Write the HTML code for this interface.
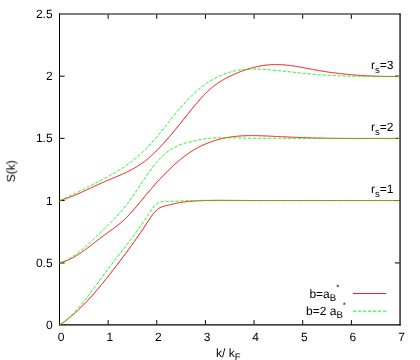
<!DOCTYPE html>
<html><head><meta charset="utf-8"><title>S(k)</title>
<style>
html,body{margin:0;padding:0;background:#fff;}
body{width:420px;height:360px;overflow:hidden;}
svg{display:block;}
.txt{filter:grayscale(1);}
text{font-family:"Liberation Sans",sans-serif;font-size:12px;fill:#000;text-rendering:geometricPrecision;}
.sub{font-size:9.6px;}
.star{font-size:8px;}
</style></head><body>
<svg width="420" height="360" viewBox="0 0 420 360">
<rect width="420" height="360" fill="#fff"/>
<path d="M59.5,13.45 V325.45" fill="none" stroke="#000" stroke-width="1"/>
<path d="M400.05,13.45 V325.45" fill="none" stroke="#000" stroke-width="1.25"/>
<path d="M59.0,14.0 H400.65 M59.0,324.9 H400.65" fill="none" stroke="#000" stroke-width="1.12"/>
<path d="M108.14,324.4 v-4.3 M108.14,14.5 v4.3 M156.79,324.4 v-4.3 M156.79,14.5 v4.3 M205.43,324.4 v-4.3 M205.43,14.5 v4.3 M254.07,324.4 v-4.3 M254.07,14.5 v4.3 M302.71,324.4 v-4.3 M302.71,14.5 v4.3 M351.36,324.4 v-4.3 M351.36,14.5 v4.3 M60.0,262.95 h4.6 M399.5,262.95 h-4.6 M60.0,200.54 h4.6 M399.5,200.54 h-4.6 M60.0,138.36 h4.6 M399.5,138.36 h-4.6 M60.0,76.18 h4.6 M399.5,76.18 h-4.6" fill="none" stroke="#000" stroke-width="1"/>
<path d="M59.50,200.62 L60.50,200.33 L61.50,200.04 L62.50,199.73 L63.50,199.41 L64.50,199.08 L65.50,198.74 L66.50,198.39 L67.50,198.03 L68.50,197.66 L69.50,197.29 L70.50,196.90 L71.50,196.51 L72.50,196.11 L73.50,195.70 L74.50,195.29 L75.50,194.87 L76.50,194.45 L77.50,194.02 L78.50,193.58 L79.50,193.14 L80.50,192.69 L81.50,192.24 L82.50,191.79 L83.50,191.34 L84.50,190.88 L85.50,190.42 L86.50,189.95 L87.50,189.49 L88.50,189.02 L89.50,188.55 L90.50,188.09 L91.50,187.62 L92.50,187.15 L93.50,186.68 L94.50,186.22 L95.50,185.75 L96.50,185.29 L97.50,184.83 L98.50,184.37 L99.50,183.91 L100.50,183.46 L101.50,183.01 L102.50,182.57 L103.50,182.13 L104.50,181.69 L105.50,181.26 L106.50,180.83 L107.50,180.41 L108.50,179.99 L109.50,179.58 L110.50,179.16 L111.50,178.75 L112.50,178.33 L113.50,177.92 L114.50,177.51 L115.50,177.09 L116.50,176.67 L117.50,176.25 L118.50,175.83 L119.50,175.40 L120.50,174.97 L121.50,174.53 L122.50,174.08 L123.50,173.63 L124.50,173.17 L125.50,172.71 L126.50,172.23 L127.50,171.74 L128.50,171.25 L129.50,170.74 L130.50,170.23 L131.50,169.70 L132.50,169.15 L133.50,168.60 L134.50,168.03 L135.50,167.44 L136.50,166.84 L137.50,166.22 L138.50,165.59 L139.50,164.94 L140.50,164.27 L141.50,163.58 L142.50,162.88 L143.50,162.15 L144.50,161.40 L145.50,160.63 L146.50,159.84 L147.50,159.03 L148.50,158.19 L149.50,157.33 L150.50,156.46 L151.50,155.56 L152.50,154.64 L153.50,153.70 L154.50,152.74 L155.50,151.77 L156.50,150.78 L157.50,149.77 L158.50,148.74 L159.50,147.70 L160.50,146.64 L161.50,145.57 L162.50,144.49 L163.50,143.39 L164.50,142.27 L165.50,141.15 L166.50,140.02 L167.50,138.87 L168.50,137.71 L169.50,136.54 L170.50,135.37 L171.50,134.18 L172.50,132.99 L173.50,131.79 L174.50,130.58 L175.50,129.37 L176.50,128.15 L177.50,126.92 L178.50,125.69 L179.50,124.46 L180.50,123.22 L181.50,121.98 L182.50,120.73 L183.50,119.49 L184.50,118.24 L185.50,117.00 L186.50,115.75 L187.50,114.50 L188.50,113.26 L189.50,112.01 L190.50,110.77 L191.50,109.54 L192.50,108.31 L193.50,107.08 L194.50,105.87 L195.50,104.67 L196.50,103.47 L197.50,102.30 L198.50,101.13 L199.50,99.98 L200.50,98.85 L201.50,97.73 L202.50,96.64 L203.50,95.57 L204.50,94.52 L205.50,93.49 L206.50,92.49 L207.50,91.52 L208.50,90.57 L209.50,89.66 L210.50,88.77 L211.50,87.92 L212.50,87.09 L213.50,86.29 L214.50,85.52 L215.50,84.77 L216.50,84.05 L217.50,83.36 L218.50,82.68 L219.50,82.03 L220.50,81.40 L221.50,80.78 L222.50,80.19 L223.50,79.61 L224.50,79.05 L225.50,78.51 L226.50,77.98 L227.50,77.46 L228.50,76.95 L229.50,76.46 L230.50,75.98 L231.50,75.50 L232.50,75.04 L233.50,74.58 L234.50,74.13 L235.50,73.69 L236.50,73.27 L237.50,72.85 L238.50,72.44 L239.50,72.04 L240.50,71.65 L241.50,71.27 L242.50,70.90 L243.50,70.54 L244.50,70.19 L245.50,69.84 L246.50,69.51 L247.50,69.19 L248.50,68.88 L249.50,68.58 L250.50,68.29 L251.50,68.01 L252.50,67.74 L253.50,67.48 L254.50,67.23 L255.50,67.00 L256.50,66.77 L257.50,66.55 L258.50,66.35 L259.50,66.15 L260.50,65.97 L261.50,65.79 L262.50,65.63 L263.50,65.48 L264.50,65.34 L265.50,65.21 L266.50,65.09 L267.50,64.99 L268.50,64.89 L269.50,64.81 L270.50,64.73 L271.50,64.67 L272.50,64.62 L273.50,64.59 L274.50,64.56 L275.50,64.55 L276.50,64.55 L277.50,64.56 L278.50,64.58 L279.50,64.61 L280.50,64.65 L281.50,64.70 L282.50,64.76 L283.50,64.83 L284.50,64.91 L285.50,65.00 L286.50,65.10 L287.50,65.21 L288.50,65.32 L289.50,65.44 L290.50,65.57 L291.50,65.70 L292.50,65.84 L293.50,65.98 L294.50,66.14 L295.50,66.29 L296.50,66.45 L297.50,66.62 L298.50,66.79 L299.50,66.96 L300.50,67.14 L301.50,67.32 L302.50,67.50 L303.50,67.68 L304.50,67.87 L305.50,68.06 L306.50,68.25 L307.50,68.44 L308.50,68.63 L309.50,68.82 L310.50,69.01 L311.50,69.20 L312.50,69.39 L313.50,69.58 L314.50,69.76 L315.50,69.95 L316.50,70.13 L317.50,70.31 L318.50,70.49 L319.50,70.66 L320.50,70.83 L321.50,71.00 L322.50,71.17 L323.50,71.33 L324.50,71.49 L325.50,71.64 L326.50,71.80 L327.50,71.95 L328.50,72.09 L329.50,72.24 L330.50,72.38 L331.50,72.52 L332.50,72.66 L333.50,72.79 L334.50,72.92 L335.50,73.05 L336.50,73.18 L337.50,73.30 L338.50,73.42 L339.50,73.54 L340.50,73.65 L341.50,73.76 L342.50,73.87 L343.50,73.98 L344.50,74.09 L345.50,74.19 L346.50,74.29 L347.50,74.39 L348.50,74.48 L349.50,74.57 L350.50,74.66 L351.50,74.75 L352.50,74.84 L353.50,74.92 L354.50,75.00 L355.50,75.08 L356.50,75.15 L357.50,75.23 L358.50,75.30 L359.50,75.37 L360.50,75.43 L361.50,75.50 L362.50,75.56 L363.50,75.62 L364.50,75.67 L365.50,75.73 L366.50,75.78 L367.50,75.83 L368.50,75.88 L369.50,75.93 L370.50,75.98 L371.50,76.02 L372.50,76.06 L373.50,76.10 L374.50,76.13 L375.50,76.17 L376.50,76.20 L377.50,76.23 L378.50,76.26 L379.50,76.29 L380.50,76.31 L381.50,76.33 L382.50,76.36 L383.50,76.37 L384.50,76.39 L385.50,76.41 L386.50,76.42 L387.50,76.43 L388.50,76.44 L389.50,76.45 L390.50,76.46 L391.50,76.46 L392.50,76.47 L393.50,76.47 L394.50,76.47 L395.50,76.47 L396.50,76.46 L397.50,76.46 L398.50,76.45 L399.50,76.44 L400.00,76.44" fill="none" stroke="#ff0000" stroke-width="1"/>
<path d="M59.50,200.65 L60.50,200.19 L61.50,199.74 L62.50,199.28 L63.50,198.83 L64.50,198.37 L65.50,197.91 L66.50,197.44 L67.50,196.98 L68.50,196.51 L69.50,196.05 L70.50,195.58 L71.50,195.11 L72.50,194.64 L73.50,194.16 L74.50,193.69 L75.50,193.21 L76.50,192.73 L77.50,192.25 L78.50,191.76 L79.50,191.28 L80.50,190.79 L81.50,190.30 L82.50,189.81 L83.50,189.32 L84.50,188.83 L85.50,188.33 L86.50,187.83 L87.50,187.33 L88.50,186.83 L89.50,186.32 L90.50,185.82 L91.50,185.31 L92.50,184.80 L93.50,184.28 L94.50,183.77 L95.50,183.25 L96.50,182.73 L97.50,182.21 L98.50,181.69 L99.50,181.16 L100.50,180.63 L101.50,180.10 L102.50,179.57 L103.50,179.03 L104.50,178.49 L105.50,177.95 L106.50,177.41 L107.50,176.86 L108.50,176.31 L109.50,175.76 L110.50,175.20 L111.50,174.64 L112.50,174.07 L113.50,173.49 L114.50,172.91 L115.50,172.32 L116.50,171.73 L117.50,171.12 L118.50,170.51 L119.50,169.89 L120.50,169.26 L121.50,168.62 L122.50,167.98 L123.50,167.32 L124.50,166.65 L125.50,165.97 L126.50,165.28 L127.50,164.57 L128.50,163.85 L129.50,163.13 L130.50,162.38 L131.50,161.63 L132.50,160.85 L133.50,160.07 L134.50,159.27 L135.50,158.45 L136.50,157.62 L137.50,156.77 L138.50,155.90 L139.50,155.02 L140.50,154.12 L141.50,153.20 L142.50,152.26 L143.50,151.30 L144.50,150.33 L145.50,149.33 L146.50,148.31 L147.50,147.28 L148.50,146.22 L149.50,145.14 L150.50,144.05 L151.50,142.94 L152.50,141.81 L153.50,140.67 L154.50,139.51 L155.50,138.34 L156.50,137.16 L157.50,135.97 L158.50,134.76 L159.50,133.55 L160.50,132.33 L161.50,131.10 L162.50,129.87 L163.50,128.63 L164.50,127.39 L165.50,126.14 L166.50,124.90 L167.50,123.65 L168.50,122.40 L169.50,121.15 L170.50,119.90 L171.50,118.66 L172.50,117.42 L173.50,116.18 L174.50,114.95 L175.50,113.73 L176.50,112.52 L177.50,111.31 L178.50,110.11 L179.50,108.93 L180.50,107.75 L181.50,106.59 L182.50,105.44 L183.50,104.30 L184.50,103.19 L185.50,102.08 L186.50,101.00 L187.50,99.93 L188.50,98.89 L189.50,97.86 L190.50,96.85 L191.50,95.87 L192.50,94.90 L193.50,93.95 L194.50,93.03 L195.50,92.12 L196.50,91.23 L197.50,90.37 L198.50,89.52 L199.50,88.69 L200.50,87.88 L201.50,87.09 L202.50,86.32 L203.50,85.57 L204.50,84.83 L205.50,84.12 L206.50,83.42 L207.50,82.74 L208.50,82.08 L209.50,81.44 L210.50,80.82 L211.50,80.21 L212.50,79.62 L213.50,79.05 L214.50,78.50 L215.50,77.97 L216.50,77.45 L217.50,76.95 L218.50,76.46 L219.50,76.00 L220.50,75.55 L221.50,75.12 L222.50,74.70 L223.50,74.30 L224.50,73.92 L225.50,73.55 L226.50,73.20 L227.50,72.87 L228.50,72.55 L229.50,72.25 L230.50,71.96 L231.50,71.69 L232.50,71.43 L233.50,71.19 L234.50,70.97 L235.50,70.75 L236.50,70.56 L237.50,70.37 L238.50,70.20 L239.50,70.05 L240.50,69.90 L241.50,69.77 L242.50,69.65 L243.50,69.54 L244.50,69.44 L245.50,69.36 L246.50,69.28 L247.50,69.22 L248.50,69.17 L249.50,69.12 L250.50,69.09 L251.50,69.06 L252.50,69.04 L253.50,69.04 L254.50,69.04 L255.50,69.05 L256.50,69.06 L257.50,69.08 L258.50,69.11 L259.50,69.15 L260.50,69.19 L261.50,69.24 L262.50,69.30 L263.50,69.36 L264.50,69.42 L265.50,69.49 L266.50,69.56 L267.50,69.64 L268.50,69.72 L269.50,69.81 L270.50,69.90 L271.50,69.99 L272.50,70.08 L273.50,70.18 L274.50,70.27 L275.50,70.37 L276.50,70.47 L277.50,70.57 L278.50,70.67 L279.50,70.78 L280.50,70.88 L281.50,70.98 L282.50,71.09 L283.50,71.19 L284.50,71.30 L285.50,71.41 L286.50,71.51 L287.50,71.62 L288.50,71.73 L289.50,71.83 L290.50,71.94 L291.50,72.05 L292.50,72.16 L293.50,72.26 L294.50,72.37 L295.50,72.48 L296.50,72.58 L297.50,72.69 L298.50,72.79 L299.50,72.90 L300.50,73.00 L301.50,73.10 L302.50,73.20 L303.50,73.30 L304.50,73.40 L305.50,73.50 L306.50,73.60 L307.50,73.70 L308.50,73.79 L309.50,73.88 L310.50,73.98 L311.50,74.07 L312.50,74.15 L313.50,74.24 L314.50,74.33 L315.50,74.41 L316.50,74.49 L317.50,74.57 L318.50,74.65 L319.50,74.72 L320.50,74.79 L321.50,74.86 L322.50,74.93 L323.50,75.00 L324.50,75.06 L325.50,75.13 L326.50,75.19 L327.50,75.25 L328.50,75.30 L329.50,75.36 L330.50,75.41 L331.50,75.46 L332.50,75.51 L333.50,75.56 L334.50,75.61 L335.50,75.65 L336.50,75.70 L337.50,75.74 L338.50,75.78 L339.50,75.82 L340.50,75.85 L341.50,75.89 L342.50,75.92 L343.50,75.96 L344.50,75.99 L345.50,76.02 L346.50,76.05 L347.50,76.07 L348.50,76.10 L349.50,76.13 L350.50,76.15 L351.50,76.17 L352.50,76.19 L353.50,76.21 L354.50,76.23 L355.50,76.25 L356.50,76.27 L357.50,76.29 L358.50,76.30 L359.50,76.31 L360.50,76.33 L361.50,76.34 L362.50,76.35 L363.50,76.36 L364.50,76.37 L365.50,76.38 L366.50,76.39 L367.50,76.40 L368.50,76.41 L369.50,76.41 L370.50,76.42 L371.50,76.42 L372.50,76.43 L373.50,76.43 L374.50,76.44 L375.50,76.44 L376.50,76.44 L377.50,76.45 L378.50,76.45 L379.50,76.45 L380.50,76.45 L381.50,76.45 L382.50,76.45 L383.50,76.45 L384.50,76.45 L385.50,76.45 L386.50,76.45 L387.50,76.45 L388.50,76.45 L389.50,76.45 L390.50,76.45 L391.50,76.45 L392.50,76.45 L393.50,76.45 L394.50,76.45 L395.50,76.45 L396.50,76.45 L397.50,76.45 L398.50,76.45 L399.50,76.45 L400.00,76.45" fill="none" stroke="#00ff00" stroke-width="1" stroke-dasharray="3.3 1.7"/>
<path d="M59.50,262.90 L60.50,262.68 L61.50,262.42 L62.50,262.13 L63.50,261.82 L64.50,261.48 L65.50,261.11 L66.50,260.71 L67.50,260.29 L68.50,259.85 L69.50,259.38 L70.50,258.89 L71.50,258.37 L72.50,257.84 L73.50,257.29 L74.50,256.72 L75.50,256.12 L76.50,255.52 L77.50,254.89 L78.50,254.25 L79.50,253.60 L80.50,252.93 L81.50,252.25 L82.50,251.55 L83.50,250.85 L84.50,250.13 L85.50,249.41 L86.50,248.67 L87.50,247.93 L88.50,247.18 L89.50,246.43 L90.50,245.67 L91.50,244.91 L92.50,244.14 L93.50,243.37 L94.50,242.60 L95.50,241.83 L96.50,241.05 L97.50,240.28 L98.50,239.51 L99.50,238.74 L100.50,237.98 L101.50,237.22 L102.50,236.47 L103.50,235.72 L104.50,234.98 L105.50,234.24 L106.50,233.52 L107.50,232.79 L108.50,232.07 L109.50,231.35 L110.50,230.63 L111.50,229.91 L112.50,229.18 L113.50,228.44 L114.50,227.70 L115.50,226.95 L116.50,226.18 L117.50,225.40 L118.50,224.61 L119.50,223.80 L120.50,222.97 L121.50,222.12 L122.50,221.24 L123.50,220.34 L124.50,219.42 L125.50,218.47 L126.50,217.49 L127.50,216.48 L128.50,215.44 L129.50,214.38 L130.50,213.30 L131.50,212.20 L132.50,211.08 L133.50,209.94 L134.50,208.79 L135.50,207.62 L136.50,206.44 L137.50,205.25 L138.50,204.05 L139.50,202.84 L140.50,201.63 L141.50,200.42 L142.50,199.21 L143.50,197.99 L144.50,196.78 L145.50,195.57 L146.50,194.37 L147.50,193.17 L148.50,191.99 L149.50,190.81 L150.50,189.64 L151.50,188.47 L152.50,187.32 L153.50,186.17 L154.50,185.04 L155.50,183.91 L156.50,182.79 L157.50,181.68 L158.50,180.59 L159.50,179.50 L160.50,178.42 L161.50,177.35 L162.50,176.30 L163.50,175.25 L164.50,174.22 L165.50,173.20 L166.50,172.19 L167.50,171.19 L168.50,170.20 L169.50,169.23 L170.50,168.27 L171.50,167.32 L172.50,166.38 L173.50,165.46 L174.50,164.55 L175.50,163.65 L176.50,162.77 L177.50,161.91 L178.50,161.05 L179.50,160.22 L180.50,159.39 L181.50,158.58 L182.50,157.79 L183.50,157.01 L184.50,156.25 L185.50,155.51 L186.50,154.78 L187.50,154.06 L188.50,153.37 L189.50,152.69 L190.50,152.02 L191.50,151.38 L192.50,150.74 L193.50,150.13 L194.50,149.53 L195.50,148.95 L196.50,148.38 L197.50,147.83 L198.50,147.29 L199.50,146.77 L200.50,146.26 L201.50,145.77 L202.50,145.29 L203.50,144.83 L204.50,144.38 L205.50,143.94 L206.50,143.52 L207.50,143.11 L208.50,142.71 L209.50,142.33 L210.50,141.96 L211.50,141.60 L212.50,141.26 L213.50,140.93 L214.50,140.61 L215.50,140.30 L216.50,140.00 L217.50,139.72 L218.50,139.45 L219.50,139.19 L220.50,138.93 L221.50,138.69 L222.50,138.47 L223.50,138.25 L224.50,138.04 L225.50,137.84 L226.50,137.65 L227.50,137.47 L228.50,137.31 L229.50,137.15 L230.50,137.00 L231.50,136.85 L232.50,136.72 L233.50,136.60 L234.50,136.48 L235.50,136.38 L236.50,136.28 L237.50,136.19 L238.50,136.10 L239.50,136.03 L240.50,135.96 L241.50,135.89 L242.50,135.84 L243.50,135.79 L244.50,135.75 L245.50,135.71 L246.50,135.68 L247.50,135.65 L248.50,135.64 L249.50,135.62 L250.50,135.61 L251.50,135.61 L252.50,135.61 L253.50,135.61 L254.50,135.62 L255.50,135.63 L256.50,135.65 L257.50,135.67 L258.50,135.70 L259.50,135.72 L260.50,135.75 L261.50,135.79 L262.50,135.82 L263.50,135.86 L264.50,135.90 L265.50,135.94 L266.50,135.98 L267.50,136.03 L268.50,136.07 L269.50,136.12 L270.50,136.17 L271.50,136.22 L272.50,136.27 L273.50,136.32 L274.50,136.37 L275.50,136.42 L276.50,136.47 L277.50,136.51 L278.50,136.56 L279.50,136.61 L280.50,136.66 L281.50,136.70 L282.50,136.75 L283.50,136.80 L284.50,136.84 L285.50,136.89 L286.50,136.93 L287.50,136.98 L288.50,137.02 L289.50,137.06 L290.50,137.11 L291.50,137.15 L292.50,137.19 L293.50,137.23 L294.50,137.27 L295.50,137.31 L296.50,137.35 L297.50,137.39 L298.50,137.43 L299.50,137.47 L300.50,137.50 L301.50,137.54 L302.50,137.58 L303.50,137.61 L304.50,137.64 L305.50,137.68 L306.50,137.71 L307.50,137.74 L308.50,137.77 L309.50,137.80 L310.50,137.83 L311.50,137.86 L312.50,137.89 L313.50,137.92 L314.50,137.95 L315.50,137.97 L316.50,138.00 L317.50,138.02 L318.50,138.05 L319.50,138.07 L320.50,138.09 L321.50,138.11 L322.50,138.13 L323.50,138.15 L324.50,138.17 L325.50,138.19 L326.50,138.20 L327.50,138.22 L328.50,138.24 L329.50,138.25 L330.50,138.27 L331.50,138.28 L332.50,138.29 L333.50,138.31 L334.50,138.32 L335.50,138.33 L336.50,138.34 L337.50,138.35 L338.50,138.36 L339.50,138.37 L340.50,138.38 L341.50,138.39 L342.50,138.39 L343.50,138.40 L344.50,138.41 L345.50,138.41 L346.50,138.42 L347.50,138.42 L348.50,138.43 L349.50,138.43 L350.50,138.44 L351.50,138.44 L352.50,138.44 L353.50,138.45 L354.50,138.45 L355.50,138.45 L356.50,138.45 L357.50,138.46 L358.50,138.46 L359.50,138.46 L360.50,138.46 L361.50,138.46 L362.50,138.46 L363.50,138.46 L364.50,138.46 L365.50,138.46 L366.50,138.46 L367.50,138.46 L368.50,138.46 L369.50,138.46 L370.50,138.46 L371.50,138.46 L372.50,138.46 L373.50,138.46 L374.50,138.45 L375.50,138.45 L376.50,138.45 L377.50,138.45 L378.50,138.45 L379.50,138.45 L380.50,138.45 L381.50,138.45 L382.50,138.45 L383.50,138.45 L384.50,138.44 L385.50,138.44 L386.50,138.44 L387.50,138.44 L388.50,138.44 L389.50,138.44 L390.50,138.44 L391.50,138.44 L392.50,138.44 L393.50,138.45 L394.50,138.45 L395.50,138.45 L396.50,138.45 L397.50,138.45 L398.50,138.45 L399.50,138.46 L400.00,138.46" fill="none" stroke="#ff0000" stroke-width="1"/>
<path d="M59.50,262.93 L60.50,262.60 L61.50,262.24 L62.50,261.85 L63.50,261.44 L64.50,260.99 L65.50,260.53 L66.50,260.03 L67.50,259.51 L68.50,258.97 L69.50,258.40 L70.50,257.81 L71.50,257.19 L72.50,256.56 L73.50,255.90 L74.50,255.22 L75.50,254.52 L76.50,253.81 L77.50,253.07 L78.50,252.32 L79.50,251.55 L80.50,250.76 L81.50,249.96 L82.50,249.15 L83.50,248.31 L84.50,247.47 L85.50,246.61 L86.50,245.74 L87.50,244.86 L88.50,243.97 L89.50,243.06 L90.50,242.15 L91.50,241.23 L92.50,240.30 L93.50,239.36 L94.50,238.42 L95.50,237.47 L96.50,236.51 L97.50,235.55 L98.50,234.58 L99.50,233.62 L100.50,232.64 L101.50,231.67 L102.50,230.70 L103.50,229.72 L104.50,228.75 L105.50,227.77 L106.50,226.79 L107.50,225.82 L108.50,224.83 L109.50,223.85 L110.50,222.85 L111.50,221.85 L112.50,220.84 L113.50,219.81 L114.50,218.78 L115.50,217.73 L116.50,216.66 L117.50,215.58 L118.50,214.48 L119.50,213.36 L120.50,212.22 L121.50,211.06 L122.50,209.87 L123.50,208.65 L124.50,207.41 L125.50,206.14 L126.50,204.84 L127.50,203.52 L128.50,202.16 L129.50,200.78 L130.50,199.39 L131.50,197.97 L132.50,196.53 L133.50,195.08 L134.50,193.61 L135.50,192.13 L136.50,190.64 L137.50,189.15 L138.50,187.64 L139.50,186.14 L140.50,184.63 L141.50,183.13 L142.50,181.63 L143.50,180.14 L144.50,178.67 L145.50,177.20 L146.50,175.75 L147.50,174.32 L148.50,172.92 L149.50,171.53 L150.50,170.17 L151.50,168.83 L152.50,167.51 L153.50,166.22 L154.50,164.96 L155.50,163.73 L156.50,162.53 L157.50,161.36 L158.50,160.22 L159.50,159.12 L160.50,158.05 L161.50,157.01 L162.50,156.02 L163.50,155.06 L164.50,154.14 L165.50,153.26 L166.50,152.42 L167.50,151.63 L168.50,150.88 L169.50,150.17 L170.50,149.51 L171.50,148.88 L172.50,148.29 L173.50,147.73 L174.50,147.21 L175.50,146.71 L176.50,146.25 L177.50,145.81 L178.50,145.40 L179.50,145.01 L180.50,144.65 L181.50,144.30 L182.50,143.97 L183.50,143.66 L184.50,143.36 L185.50,143.08 L186.50,142.80 L187.50,142.53 L188.50,142.27 L189.50,142.02 L190.50,141.77 L191.50,141.52 L192.50,141.28 L193.50,141.04 L194.50,140.82 L195.50,140.59 L196.50,140.38 L197.50,140.17 L198.50,139.97 L199.50,139.78 L200.50,139.59 L201.50,139.41 L202.50,139.24 L203.50,139.08 L204.50,138.93 L205.50,138.79 L206.50,138.66 L207.50,138.54 L208.50,138.43 L209.50,138.32 L210.50,138.23 L211.50,138.15 L212.50,138.08 L213.50,138.02 L214.50,137.97 L215.50,137.92 L216.50,137.89 L217.50,137.86 L218.50,137.83 L219.50,137.82 L220.50,137.80 L221.50,137.80 L222.50,137.80 L223.50,137.80 L224.50,137.80 L225.50,137.81 L226.50,137.82 L227.50,137.83 L228.50,137.85 L229.50,137.86 L230.50,137.88 L231.50,137.89 L232.50,137.91 L233.50,137.92 L234.50,137.94 L235.50,137.95 L236.50,137.96 L237.50,137.98 L238.50,137.99 L239.50,138.00 L240.50,138.01 L241.50,138.03 L242.50,138.04 L243.50,138.05 L244.50,138.06 L245.50,138.07 L246.50,138.09 L247.50,138.10 L248.50,138.11 L249.50,138.12 L250.50,138.13 L251.50,138.14 L252.50,138.15 L253.50,138.16 L254.50,138.17 L255.50,138.18 L256.50,138.19 L257.50,138.20 L258.50,138.21 L259.50,138.21 L260.50,138.22 L261.50,138.23 L262.50,138.24 L263.50,138.25 L264.50,138.26 L265.50,138.26 L266.50,138.27 L267.50,138.28 L268.50,138.28 L269.50,138.29 L270.50,138.30 L271.50,138.30 L272.50,138.31 L273.50,138.32 L274.50,138.32 L275.50,138.33 L276.50,138.33 L277.50,138.34 L278.50,138.35 L279.50,138.35 L280.50,138.36 L281.50,138.36 L282.50,138.37 L283.50,138.37 L284.50,138.38 L285.50,138.38 L286.50,138.38 L287.50,138.39 L288.50,138.39 L289.50,138.40 L290.50,138.40 L291.50,138.40 L292.50,138.41 L293.50,138.41 L294.50,138.41 L295.50,138.42 L296.50,138.42 L297.50,138.42 L298.50,138.43 L299.50,138.43 L300.50,138.43 L301.50,138.43 L302.50,138.43 L303.50,138.44 L304.50,138.44 L305.50,138.44 L306.50,138.44 L307.50,138.45 L308.50,138.45 L309.50,138.45 L310.50,138.45 L311.50,138.45 L312.50,138.45 L313.50,138.45 L314.50,138.46 L315.50,138.46 L316.50,138.46 L317.50,138.46 L318.50,138.46 L319.50,138.46 L320.50,138.46 L321.50,138.46 L322.50,138.46 L323.50,138.46 L324.50,138.46 L325.50,138.46 L326.50,138.46 L327.50,138.46 L328.50,138.46 L329.50,138.46 L330.50,138.46 L331.50,138.46 L332.50,138.46 L333.50,138.46 L334.50,138.46 L335.50,138.46 L336.50,138.46 L337.50,138.46 L338.50,138.46 L339.50,138.46 L340.50,138.46 L341.50,138.46 L342.50,138.46 L343.50,138.46 L344.50,138.46 L345.50,138.46 L346.50,138.46 L347.50,138.46 L348.50,138.46 L349.50,138.46 L350.50,138.46 L351.50,138.46 L352.50,138.46 L353.50,138.46 L354.50,138.46 L355.50,138.46 L356.50,138.45 L357.50,138.45 L358.50,138.45 L359.50,138.45 L360.50,138.45 L361.50,138.45 L362.50,138.45 L363.50,138.45 L364.50,138.45 L365.50,138.45 L366.50,138.45 L367.50,138.45 L368.50,138.45 L369.50,138.45 L370.50,138.45 L371.50,138.45 L372.50,138.45 L373.50,138.45 L374.50,138.45 L375.50,138.45 L376.50,138.45 L377.50,138.45 L378.50,138.45 L379.50,138.45 L380.50,138.45 L381.50,138.45 L382.50,138.45 L383.50,138.45 L384.50,138.45 L385.50,138.45 L386.50,138.45 L387.50,138.45 L388.50,138.45 L389.50,138.45 L390.50,138.45 L391.50,138.45 L392.50,138.45 L393.50,138.45 L394.50,138.45 L395.50,138.45 L396.50,138.45 L397.50,138.45 L398.50,138.45 L399.50,138.45 L400.00,138.46" fill="none" stroke="#00ff00" stroke-width="1" stroke-dasharray="3.3 1.7"/>
<path d="M59.50,324.91 L60.50,324.28 L61.50,323.63 L62.50,322.95 L63.50,322.26 L64.50,321.55 L65.50,320.82 L66.50,320.07 L67.50,319.30 L68.50,318.52 L69.50,317.72 L70.50,316.90 L71.50,316.06 L72.50,315.21 L73.50,314.34 L74.50,313.46 L75.50,312.56 L76.50,311.64 L77.50,310.71 L78.50,309.77 L79.50,308.81 L80.50,307.83 L81.50,306.84 L82.50,305.84 L83.50,304.83 L84.50,303.80 L85.50,302.76 L86.50,301.70 L87.50,300.63 L88.50,299.56 L89.50,298.47 L90.50,297.36 L91.50,296.25 L92.50,295.13 L93.50,293.99 L94.50,292.85 L95.50,291.69 L96.50,290.53 L97.50,289.36 L98.50,288.17 L99.50,286.98 L100.50,285.78 L101.50,284.57 L102.50,283.35 L103.50,282.13 L104.50,280.90 L105.50,279.66 L106.50,278.41 L107.50,277.16 L108.50,275.90 L109.50,274.63 L110.50,273.36 L111.50,272.08 L112.50,270.79 L113.50,269.50 L114.50,268.21 L115.50,266.90 L116.50,265.60 L117.50,264.28 L118.50,262.97 L119.50,261.64 L120.50,260.32 L121.50,258.99 L122.50,257.65 L123.50,256.31 L124.50,254.97 L125.50,253.62 L126.50,252.27 L127.50,250.92 L128.50,249.56 L129.50,248.20 L130.50,246.83 L131.50,245.45 L132.50,244.07 L133.50,242.68 L134.50,241.28 L135.50,239.87 L136.50,238.46 L137.50,237.03 L138.50,235.60 L139.50,234.15 L140.50,232.69 L141.50,231.22 L142.50,229.74 L143.50,228.25 L144.50,226.74 L145.50,225.21 L146.50,223.68 L147.50,222.13 L148.50,220.58 L149.50,219.05 L150.50,217.57 L151.50,216.13 L152.50,214.78 L153.50,213.51 L154.50,212.34 L155.50,211.27 L156.50,210.30 L157.50,209.44 L158.50,208.68 L159.50,208.04 L160.50,207.50 L161.50,207.04 L162.50,206.65 L163.50,206.33 L164.50,206.04 L165.50,205.80 L166.50,205.57 L167.50,205.34 L168.50,205.11 L169.50,204.87 L170.50,204.63 L171.50,204.39 L172.50,204.15 L173.50,203.91 L174.50,203.67 L175.50,203.44 L176.50,203.22 L177.50,203.01 L178.50,202.80 L179.50,202.62 L180.50,202.45 L181.50,202.29 L182.50,202.14 L183.50,202.01 L184.50,201.89 L185.50,201.78 L186.50,201.68 L187.50,201.58 L188.50,201.49 L189.50,201.41 L190.50,201.33 L191.50,201.25 L192.50,201.18 L193.50,201.11 L194.50,201.04 L195.50,200.98 L196.50,200.93 L197.50,200.87 L198.50,200.82 L199.50,200.78 L200.50,200.73 L201.50,200.69 L202.50,200.66 L203.50,200.62 L204.50,200.59 L205.50,200.56 L206.50,200.54 L207.50,200.51 L208.50,200.49 L209.50,200.47 L210.50,200.46 L211.50,200.44 L212.50,200.43 L213.50,200.42 L214.50,200.41 L215.50,200.40 L216.50,200.40 L217.50,200.39 L218.50,200.39 L219.50,200.39 L220.50,200.39 L221.50,200.39 L222.50,200.39 L223.50,200.39 L224.50,200.40 L225.50,200.40 L226.50,200.40 L227.50,200.41 L228.50,200.41 L229.50,200.42 L230.50,200.42 L231.50,200.43 L232.50,200.43 L233.50,200.43 L234.50,200.44 L235.50,200.44 L236.50,200.45 L237.50,200.45 L238.50,200.45 L239.50,200.46 L240.50,200.46 L241.50,200.46 L242.50,200.47 L243.50,200.47 L244.50,200.47 L245.50,200.48 L246.50,200.48 L247.50,200.48 L248.50,200.49 L249.50,200.49 L250.50,200.49 L251.50,200.49 L252.50,200.50 L253.50,200.50 L254.50,200.50 L255.50,200.50 L256.50,200.51 L257.50,200.51 L258.50,200.51 L259.50,200.51 L260.50,200.51 L261.50,200.52 L262.50,200.52 L263.50,200.52 L264.50,200.52 L265.50,200.52 L266.50,200.52 L267.50,200.52 L268.50,200.53 L269.50,200.53 L270.50,200.53 L271.50,200.53 L272.50,200.53 L273.50,200.53 L274.50,200.53 L275.50,200.53 L276.50,200.53 L277.50,200.54 L278.50,200.54 L279.50,200.54 L280.50,200.54 L281.50,200.54 L282.50,200.54 L283.50,200.54 L284.50,200.54 L285.50,200.54 L286.50,200.54 L287.50,200.54 L288.50,200.54 L289.50,200.54 L290.50,200.54 L291.50,200.54 L292.50,200.54 L293.50,200.54 L294.50,200.54 L295.50,200.54 L296.50,200.54 L297.50,200.54 L298.50,200.54 L299.50,200.54 L300.50,200.54 L301.50,200.54 L302.50,200.54 L303.50,200.54 L304.50,200.54 L305.50,200.54 L306.50,200.54 L307.50,200.54 L308.50,200.54 L309.50,200.54 L310.50,200.53 L311.50,200.53 L312.50,200.53 L313.50,200.53 L314.50,200.53 L315.50,200.53 L316.50,200.53 L317.50,200.53 L318.50,200.53 L319.50,200.53 L320.50,200.53 L321.50,200.53 L322.50,200.53 L323.50,200.53 L324.50,200.53 L325.50,200.52 L326.50,200.52 L327.50,200.52 L328.50,200.52 L329.50,200.52 L330.50,200.52 L331.50,200.52 L332.50,200.52 L333.50,200.52 L334.50,200.52 L335.50,200.52 L336.50,200.52 L337.50,200.51 L338.50,200.51 L339.50,200.51 L340.50,200.51 L341.50,200.51 L342.50,200.51 L343.50,200.51 L344.50,200.51 L345.50,200.51 L346.50,200.51 L347.50,200.51 L348.50,200.51 L349.50,200.50 L350.50,200.50 L351.50,200.50 L352.50,200.50 L353.50,200.50 L354.50,200.50 L355.50,200.50 L356.50,200.50 L357.50,200.50 L358.50,200.50 L359.50,200.50 L360.50,200.50 L361.50,200.50 L362.50,200.50 L363.50,200.50 L364.50,200.50 L365.50,200.50 L366.50,200.50 L367.50,200.50 L368.50,200.50 L369.50,200.49 L370.50,200.49 L371.50,200.49 L372.50,200.49 L373.50,200.49 L374.50,200.49 L375.50,200.49 L376.50,200.49 L377.50,200.49 L378.50,200.49 L379.50,200.49 L380.50,200.49 L381.50,200.50 L382.50,200.50 L383.50,200.50 L384.50,200.50 L385.50,200.50 L386.50,200.50 L387.50,200.50 L388.50,200.50 L389.50,200.50 L390.50,200.50 L391.50,200.50 L392.50,200.50 L393.50,200.50 L394.50,200.50 L395.50,200.50 L396.50,200.50 L397.50,200.51 L398.50,200.51 L399.50,200.51 L400.00,200.51" fill="none" stroke="#ff0000" stroke-width="1"/>
<path d="M59.50,324.90 L60.50,324.28 L61.50,323.63 L62.50,322.94 L63.50,322.22 L64.50,321.46 L65.50,320.66 L66.50,319.84 L67.50,318.98 L68.50,318.09 L69.50,317.17 L70.50,316.22 L71.50,315.24 L72.50,314.23 L73.50,313.20 L74.50,312.14 L75.50,311.06 L76.50,309.96 L77.50,308.83 L78.50,307.69 L79.50,306.52 L80.50,305.33 L81.50,304.13 L82.50,302.91 L83.50,301.67 L84.50,300.42 L85.50,299.15 L86.50,297.87 L87.50,296.58 L88.50,295.28 L89.50,293.96 L90.50,292.64 L91.50,291.31 L92.50,289.98 L93.50,288.63 L94.50,287.29 L95.50,285.93 L96.50,284.58 L97.50,283.22 L98.50,281.86 L99.50,280.51 L100.50,279.15 L101.50,277.80 L102.50,276.44 L103.50,275.10 L104.50,273.75 L105.50,272.42 L106.50,271.09 L107.50,269.76 L108.50,268.44 L109.50,267.13 L110.50,265.81 L111.50,264.50 L112.50,263.20 L113.50,261.90 L114.50,260.59 L115.50,259.29 L116.50,258.00 L117.50,256.70 L118.50,255.40 L119.50,254.11 L120.50,252.81 L121.50,251.51 L122.50,250.21 L123.50,248.91 L124.50,247.61 L125.50,246.30 L126.50,244.99 L127.50,243.68 L128.50,242.36 L129.50,241.04 L130.50,239.71 L131.50,238.38 L132.50,237.05 L133.50,235.70 L134.50,234.35 L135.50,233.00 L136.50,231.63 L137.50,230.26 L138.50,228.88 L139.50,227.49 L140.50,226.09 L141.50,224.68 L142.50,223.27 L143.50,221.84 L144.50,220.40 L145.50,218.95 L146.50,217.48 L147.50,216.00 L148.50,214.50 L149.50,212.94 L150.50,211.34 L151.50,209.75 L152.50,208.27 L153.50,206.96 L154.50,205.82 L155.50,204.85 L156.50,204.03 L157.50,203.35 L158.50,202.79 L159.50,202.35 L160.50,202.01 L161.50,201.75 L162.50,201.57 L163.50,201.45 L164.50,201.38 L165.50,201.35 L166.50,201.33 L167.50,201.33 L168.50,201.32 L169.50,201.30 L170.50,201.29 L171.50,201.27 L172.50,201.24 L173.50,201.21 L174.50,201.18 L175.50,201.15 L176.50,201.11 L177.50,201.08 L178.50,201.04 L179.50,201.00 L180.50,200.96 L181.50,200.92 L182.50,200.87 L183.50,200.83 L184.50,200.79 L185.50,200.75 L186.50,200.71 L187.50,200.67 L188.50,200.64 L189.50,200.61 L190.50,200.57 L191.50,200.54 L192.50,200.52 L193.50,200.49 L194.50,200.47 L195.50,200.45 L196.50,200.43 L197.50,200.41 L198.50,200.39 L199.50,200.37 L200.50,200.36 L201.50,200.35 L202.50,200.34 L203.50,200.33 L204.50,200.32 L205.50,200.31 L206.50,200.31 L207.50,200.30 L208.50,200.30 L209.50,200.30 L210.50,200.30 L211.50,200.29 L212.50,200.30 L213.50,200.30 L214.50,200.30 L215.50,200.30 L216.50,200.30 L217.50,200.31 L218.50,200.31 L219.50,200.32 L220.50,200.32 L221.50,200.33 L222.50,200.34 L223.50,200.34 L224.50,200.35 L225.50,200.36 L226.50,200.36 L227.50,200.37 L228.50,200.38 L229.50,200.38 L230.50,200.39 L231.50,200.40 L232.50,200.40 L233.50,200.41 L234.50,200.42 L235.50,200.42 L236.50,200.43 L237.50,200.43 L238.50,200.44 L239.50,200.44 L240.50,200.45 L241.50,200.46 L242.50,200.46 L243.50,200.47 L244.50,200.47 L245.50,200.47 L246.50,200.48 L247.50,200.48 L248.50,200.49 L249.50,200.49 L250.50,200.50 L251.50,200.50 L252.50,200.50 L253.50,200.51 L254.50,200.51 L255.50,200.51 L256.50,200.52 L257.50,200.52 L258.50,200.52 L259.50,200.53 L260.50,200.53 L261.50,200.53 L262.50,200.53 L263.50,200.54 L264.50,200.54 L265.50,200.54 L266.50,200.54 L267.50,200.55 L268.50,200.55 L269.50,200.55 L270.50,200.55 L271.50,200.55 L272.50,200.55 L273.50,200.56 L274.50,200.56 L275.50,200.56 L276.50,200.56 L277.50,200.56 L278.50,200.56 L279.50,200.56 L280.50,200.56 L281.50,200.56 L282.50,200.56 L283.50,200.56 L284.50,200.57 L285.50,200.57 L286.50,200.57 L287.50,200.57 L288.50,200.57 L289.50,200.57 L290.50,200.57 L291.50,200.57 L292.50,200.57 L293.50,200.57 L294.50,200.57 L295.50,200.57 L296.50,200.57 L297.50,200.57 L298.50,200.57 L299.50,200.56 L300.50,200.56 L301.50,200.56 L302.50,200.56 L303.50,200.56 L304.50,200.56 L305.50,200.56 L306.50,200.56 L307.50,200.56 L308.50,200.56 L309.50,200.56 L310.50,200.56 L311.50,200.56 L312.50,200.55 L313.50,200.55 L314.50,200.55 L315.50,200.55 L316.50,200.55 L317.50,200.55 L318.50,200.55 L319.50,200.55 L320.50,200.55 L321.50,200.54 L322.50,200.54 L323.50,200.54 L324.50,200.54 L325.50,200.54 L326.50,200.54 L327.50,200.54 L328.50,200.53 L329.50,200.53 L330.50,200.53 L331.50,200.53 L332.50,200.53 L333.50,200.53 L334.50,200.53 L335.50,200.53 L336.50,200.52 L337.50,200.52 L338.50,200.52 L339.50,200.52 L340.50,200.52 L341.50,200.52 L342.50,200.52 L343.50,200.51 L344.50,200.51 L345.50,200.51 L346.50,200.51 L347.50,200.51 L348.50,200.51 L349.50,200.51 L350.50,200.51 L351.50,200.51 L352.50,200.50 L353.50,200.50 L354.50,200.50 L355.50,200.50 L356.50,200.50 L357.50,200.50 L358.50,200.50 L359.50,200.50 L360.50,200.50 L361.50,200.50 L362.50,200.50 L363.50,200.49 L364.50,200.49 L365.50,200.49 L366.50,200.49 L367.50,200.49 L368.50,200.49 L369.50,200.49 L370.50,200.49 L371.50,200.49 L372.50,200.49 L373.50,200.49 L374.50,200.49 L375.50,200.49 L376.50,200.49 L377.50,200.49 L378.50,200.49 L379.50,200.49 L380.50,200.49 L381.50,200.49 L382.50,200.49 L383.50,200.49 L384.50,200.49 L385.50,200.49 L386.50,200.50 L387.50,200.50 L388.50,200.50 L389.50,200.50 L390.50,200.50 L391.50,200.50 L392.50,200.50 L393.50,200.50 L394.50,200.50 L395.50,200.51 L396.50,200.51 L397.50,200.51 L398.50,200.51 L399.50,200.51 L400.00,200.51" fill="none" stroke="#00ff00" stroke-width="1" stroke-dasharray="3.3 1.7"/>
<path d="M353,293.5 H386.3" stroke="#ff1c1c" stroke-width="1" fill="none"/>
<path d="M353,311.1 H386.3" stroke="#00ff00" stroke-width="1" stroke-dasharray="3.3 1.7" fill="none"/>
<g class="txt">
<text x="52.6" y="328.90" text-anchor="end">0</text>
<text x="52.6" y="266.72" text-anchor="end">0.5</text>
<text x="52.6" y="204.54" text-anchor="end">1</text>
<text x="52.6" y="142.36" text-anchor="end">1.5</text>
<text x="52.6" y="80.18" text-anchor="end">2</text>
<text x="52.6" y="18.00" text-anchor="end">2.5</text>
<text x="61.10" y="340.6" text-anchor="middle">0</text>
<text x="109.74" y="340.6" text-anchor="middle">1</text>
<text x="158.39" y="340.6" text-anchor="middle">2</text>
<text x="207.03" y="340.6" text-anchor="middle">3</text>
<text x="255.67" y="340.6" text-anchor="middle">4</text>
<text x="304.31" y="340.6" text-anchor="middle">5</text>
<text x="352.96" y="340.6" text-anchor="middle">6</text>
<text x="401.60" y="340.6" text-anchor="middle">7</text>
<text transform="translate(14.9,171.3) rotate(-90)" text-anchor="middle">S(k)</text>
<text x="216.0" y="356.6">k/ k<tspan class="sub" dy="3.6">F</tspan></text>
<text x="371.0" y="69.1">r<tspan class="sub" dy="3.7">s</tspan><tspan dy="-3.7">=3</tspan></text>
<text x="371.0" y="131.2">r<tspan class="sub" dy="3.7">s</tspan><tspan dy="-3.7">=2</tspan></text>
<text x="371.0" y="193.3">r<tspan class="sub" dy="3.7">s</tspan><tspan dy="-3.7">=1</tspan></text>
<text x="309.4" y="297.6">b=a<tspan class="sub" dy="3">B</tspan><tspan class="star" dy="-10.6">*</tspan></text>
<text x="306.0" y="315.1">b=2 a<tspan class="sub" dy="3">B</tspan><tspan class="star" dy="-10.6">*</tspan></text>
</g>
</svg></body></html>
